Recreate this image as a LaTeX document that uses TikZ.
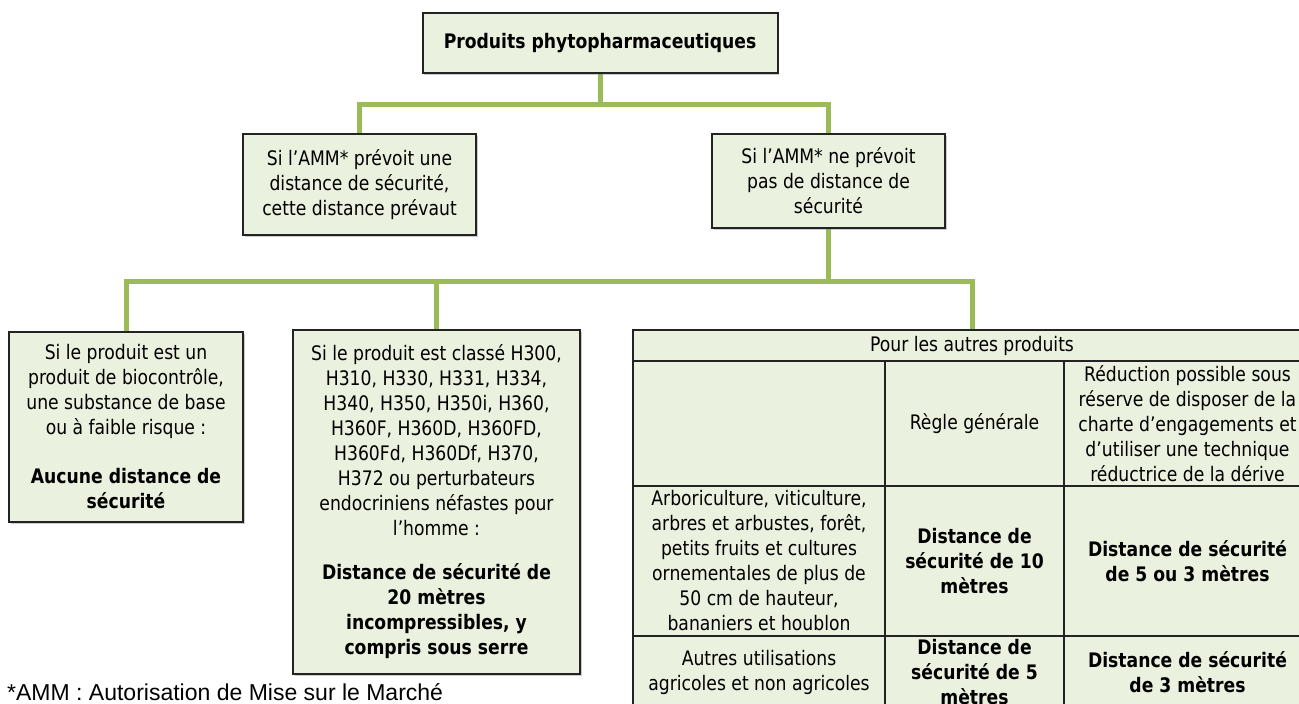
\documentclass[tikz,border=0pt]{standalone}
\usepackage{fontspec}
\setmainfont{DejaVu Sans}[FakeStretch=0.86]
\newfontfamily\arialfont{Liberation Sans}
\usetikzlibrary{shadows,backgrounds}
\definecolor{boxfill}{RGB}{234,241,222}
\definecolor{conngreen}{RGB}{155,187,89}
\definecolor{boxline}{RGB}{35,35,35}
\begin{document}
\begin{tikzpicture}[x=1pt,y=-1pt,
  txt/.style={font=\fontsize{20}{25}\selectfont, align=center, inner sep=0pt, outer sep=0pt},
  box/.style={txt, draw=boxline, line width=2pt, fill=boxfill,
    drop shadow={shadow xshift=1.5pt, shadow yshift=-1.5pt, opacity=0.4}},
  cell/.style={txt, draw=boxline, line width=2pt, fill=boxfill},
  conn/.style={draw=conngreen, line width=5pt}]
\useasboundingbox (0,0) rectangle (1299,704);

% junction points
\coordinate (j1) at (600,104);
\coordinate (j2) at (828.5,281);

% boxes
\node[box, minimum width=355pt, minimum height=60pt] (top) at (600,43)
  {\bfseries Produits phytopharmaceutiques};
\node[box, minimum width=233pt, minimum height=101pt] (amm1) at (359.5,184.5)
  {Si l’AMM* prévoit une\\distance de sécurité,\\cette distance prévaut};
\node[box, minimum width=233pt, minimum height=94pt] (amm2) at (828.5,181)
  {Si l’AMM* ne prévoit\\pas de distance de\\sécurité};
\node[box, minimum width=234pt, minimum height=190pt] (b1) at (126,427)
  {Si le produit est un\\produit de biocontrôle,\\une substance de base\\ou à faible risque :\\[24pt]
   \bfseries Aucune distance de\\\bfseries sécurité};
\node[box, minimum width=287pt, minimum height=344pt] (b2) at (436.5,502)
  {Si le produit est classé H300,\\H310, H330, H331, H334,\\H340, H350, H350i, H360,\\H360F, H360D, H360FD,\\H360Fd, H360Df, H370,\\H372 ou perturbateurs\\endocriniens néfastes pour\\l’homme :\\[19pt]
   \bfseries Distance de sécurité de\\\bfseries 20 mètres\\\bfseries incompressibles, y\\\bfseries compris sous serre};

% table
\node[cell, minimum width=678pt, minimum height=31pt] (tbl) at (972,345.5)
  {Pour les autres produits};
\node[cell, minimum width=252pt, minimum height=125pt] (r2c1) at (759,423.5) {};
\node[cell, minimum width=179pt, minimum height=125pt] (r2c2) at (974.5,423.5)
  {Règle générale};
\node[cell, minimum width=247pt, minimum height=125pt] (r2c3) at (1187.5,423.5)
  {Réduction possible sous\\réserve de disposer de la\\charte d’engagements et\\d’utiliser une technique\\réductrice de la dérive};
\node[cell, minimum width=252pt, minimum height=150pt] (r3c1) at (759,561)
  {Arboriculture, viticulture,\\arbres et arbustes, forêt,\\petits fruits et cultures\\ornementales de plus de\\50 cm de hauteur,\\bananiers et houblon};
\node[cell, minimum width=179pt, minimum height=150pt] (r3c2) at (974.5,561)
  {\bfseries Distance de\\\bfseries sécurité de 10\\\bfseries mètres};
\node[cell, minimum width=247pt, minimum height=150pt] (r3c3) at (1187.5,561)
  {\bfseries Distance de sécurité\\\bfseries de 5 ou 3 mètres};
\node[cell, minimum width=252pt, minimum height=72pt] (r4c1) at (759,672)
  {Autres utilisations\\agricoles et non agricoles};
\node[cell, minimum width=179pt, minimum height=72pt] (r4c2) at (974.5,672)
  {\bfseries Distance de\\\bfseries sécurité de 5\\\bfseries mètres};
\node[cell, minimum width=247pt, minimum height=72pt] (r4c3) at (1187.5,672)
  {\bfseries Distance de sécurité\\\bfseries de 3 mètres};

% connectors (behind the boxes)
\begin{pgfonlayer}{background}
\fill[white] (0,0) rectangle (1299,704);
\draw[conn] (top.south) -- (j1);
\draw[conn] (amm1.north) |- (j1) -| (amm2.north);
\draw[conn] (amm2.south) -- (j2);
\draw[conn] (b1.north) |- (j2) -| (tbl.north);
\draw[conn] (b2.north) -- (b2.north |- j2);
\end{pgfonlayer}

% footnote
\node[font=\arialfont\fontsize{23}{27}\selectfont, anchor=base west, inner sep=0pt] (fn) at (7,700)
  {*AMM : Autorisation de Mise sur le Marché};
\end{tikzpicture}
\end{document}
